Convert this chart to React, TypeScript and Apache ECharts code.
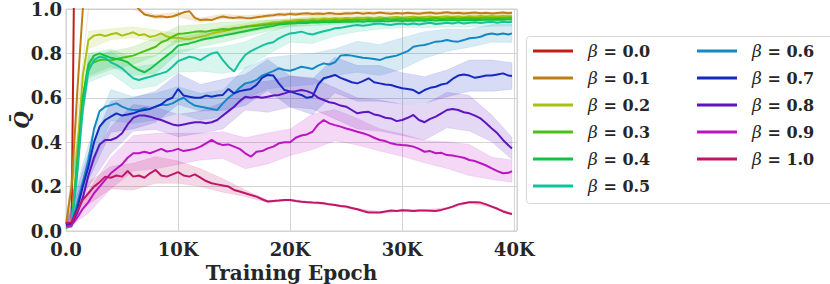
import React, { useEffect, useRef } from "react";
import * as echarts from "echarts";

// Training epochs at which the curves are sampled
const EPOCHS: number[] = Array.from({ length: 80 }, (_, i) => i * 500).concat([39800]);
const RED_EPOCHS = [0, 500, 1000];

const BETAS = ["0.0", "0.1", "0.2", "0.3", "0.4", "0.5", "0.6", "0.7", "0.8", "0.9", "1.0"];

const Q_B00 = [0.03, 0.03, 2.5];
const Q_B01 = [
  0.03, 0.2, 0.62, 1.0, 1.2, 1.3, 1.3, 1.25, 1.2, 1.15,
  1.1, 1.06, 1.03, 1.0, 0.975, 0.97, 0.965, 0.967, 0.963, 0.966,
  0.975, 0.985, 0.99, 0.96, 0.95, 0.953, 0.95, 0.96, 0.966, 0.962,
  0.96, 0.963, 0.96, 0.958, 0.963, 0.966, 0.97, 0.972, 0.976, 0.974,
  0.978, 0.975, 0.979, 0.981, 0.977, 0.98, 0.978, 0.982, 0.979, 0.977,
  0.981, 0.98, 0.983, 0.979, 0.982, 0.98, 0.984, 0.981, 0.979, 0.982,
  0.98, 0.983, 0.981, 0.979, 0.982, 0.984, 0.98, 0.982, 0.985, 0.981,
  0.983, 0.98, 0.982, 0.984, 0.981, 0.983, 0.98, 0.982, 0.984, 0.981,
  0.983,
];
const Q_B02 = [
  0.025, 0.03, 0.35, 0.7, 0.86, 0.88, 0.885, 0.878, 0.886, 0.892,
  0.88, 0.887, 0.895, 0.882, 0.886, 0.874, 0.88, 0.89, 0.876, 0.87,
  0.87, 0.866, 0.864, 0.87, 0.875, 0.88, 0.89, 0.895, 0.9, 0.905,
  0.91, 0.915, 0.92, 0.925, 0.928, 0.932, 0.935, 0.94, 0.94, 0.945,
  0.946, 0.95, 0.952, 0.95, 0.955, 0.953, 0.957, 0.955, 0.958, 0.956,
  0.96, 0.957, 0.961, 0.959, 0.962, 0.958, 0.963, 0.96, 0.962, 0.964,
  0.961, 0.963, 0.965, 0.962, 0.964, 0.966, 0.963, 0.965, 0.967, 0.964,
  0.966, 0.963, 0.967, 0.965, 0.968, 0.966, 0.969, 0.966, 0.968, 0.967,
  0.968,
];
const Q_B03 = [
  0.02, 0.03, 0.3, 0.6, 0.74, 0.76, 0.77, 0.772, 0.768, 0.775,
  0.78, 0.785, 0.79, 0.8, 0.81, 0.82, 0.83, 0.85, 0.86, 0.875,
  0.888, 0.89, 0.893, 0.897, 0.9, 0.898, 0.903, 0.905, 0.91, 0.908,
  0.913, 0.916, 0.92, 0.922, 0.925, 0.927, 0.93, 0.933, 0.935, 0.938,
  0.94, 0.942, 0.945, 0.943, 0.947, 0.945, 0.949, 0.947, 0.95, 0.948,
  0.952, 0.95, 0.953, 0.951, 0.955, 0.952, 0.954, 0.956, 0.953, 0.955,
  0.957, 0.954, 0.956, 0.958, 0.955, 0.957, 0.959, 0.956, 0.958, 0.96,
  0.957, 0.959, 0.961, 0.958, 0.96, 0.962, 0.959, 0.961, 0.96, 0.962,
  0.961,
];
const Q_B04 = [
  0.015, 0.02, 0.3, 0.6, 0.75, 0.79, 0.8, 0.79, 0.78, 0.775,
  0.77, 0.76, 0.74, 0.725, 0.715, 0.73, 0.75, 0.77, 0.79, 0.81,
  0.835, 0.84, 0.845, 0.852, 0.86, 0.866, 0.87, 0.875, 0.88, 0.885,
  0.89, 0.895, 0.9, 0.905, 0.91, 0.915, 0.92, 0.924, 0.93, 0.932,
  0.935, 0.936, 0.938, 0.937, 0.94, 0.939, 0.942, 0.94, 0.943, 0.941,
  0.944, 0.942, 0.945, 0.943, 0.946, 0.944, 0.947, 0.945, 0.946, 0.948,
  0.946, 0.948, 0.947, 0.949, 0.947, 0.95, 0.948, 0.95, 0.949, 0.951,
  0.949, 0.951, 0.95, 0.952, 0.95, 0.953, 0.951, 0.953, 0.952, 0.954,
  0.953,
];
const Q_B05 = [
  0.02, 0.03, 0.25, 0.55, 0.72, 0.77, 0.785, 0.78, 0.76, 0.748,
  0.733, 0.71, 0.688, 0.68, 0.688, 0.695, 0.703, 0.71, 0.718, 0.74,
  0.765, 0.775, 0.785, 0.78, 0.77, 0.785, 0.8, 0.805, 0.77, 0.74,
  0.718, 0.76, 0.793, 0.81, 0.823, 0.835, 0.845, 0.85, 0.868, 0.88,
  0.89, 0.893, 0.898, 0.89, 0.885, 0.893, 0.9, 0.905, 0.913, 0.915,
  0.92, 0.925, 0.928, 0.925, 0.928, 0.932, 0.935, 0.93, 0.928, 0.932,
  0.935, 0.93, 0.935, 0.93, 0.935, 0.938, 0.932, 0.935, 0.938, 0.935,
  0.94, 0.935, 0.938, 0.94, 0.937, 0.94, 0.942, 0.938, 0.942, 0.94,
  0.943,
];
const Q_B06 = [
  0.03, 0.035, 0.12, 0.22, 0.32, 0.46, 0.54, 0.56, 0.567, 0.575,
  0.56, 0.55, 0.545, 0.545, 0.553, 0.55, 0.56, 0.57, 0.567, 0.575,
  0.59, 0.6, 0.58, 0.565, 0.56, 0.555, 0.55, 0.545, 0.575, 0.6,
  0.62, 0.645, 0.665, 0.67, 0.68, 0.7, 0.71, 0.72, 0.733, 0.725,
  0.722, 0.73, 0.74, 0.735, 0.73, 0.745, 0.755, 0.75, 0.76, 0.79,
  0.793, 0.79, 0.785, 0.78, 0.778, 0.775, 0.77, 0.78, 0.785, 0.79,
  0.8, 0.81, 0.83, 0.835, 0.838, 0.845, 0.853, 0.855, 0.86, 0.855,
  0.853, 0.86, 0.868, 0.87, 0.875, 0.885, 0.89, 0.885, 0.89, 0.885,
  0.89,
];
const Q_B07 = [
  0.03, 0.035, 0.1, 0.2, 0.29, 0.4, 0.47, 0.5, 0.515, 0.53,
  0.52, 0.525, 0.53, 0.54, 0.545, 0.55, 0.56, 0.57, 0.59, 0.6,
  0.64, 0.61, 0.605, 0.6, 0.6, 0.61, 0.605, 0.61, 0.613, 0.64,
  0.62, 0.63, 0.635, 0.64, 0.658, 0.69, 0.703, 0.7, 0.665, 0.635,
  0.628, 0.62, 0.613, 0.6, 0.605, 0.66, 0.688, 0.695, 0.703, 0.69,
  0.68, 0.67, 0.665, 0.675, 0.688, 0.67, 0.665, 0.66, 0.658, 0.65,
  0.643, 0.64, 0.635, 0.62, 0.635, 0.645, 0.65, 0.66, 0.665, 0.685,
  0.7, 0.705, 0.7, 0.69, 0.695, 0.7, 0.7, 0.705, 0.71, 0.7,
  0.698,
];
const Q_B08 = [
  0.025, 0.03, 0.08, 0.15, 0.25, 0.33, 0.39, 0.41, 0.41, 0.42,
  0.44, 0.48, 0.51, 0.52, 0.52, 0.515, 0.507, 0.5, 0.49, 0.48,
  0.475, 0.48, 0.485, 0.49, 0.49, 0.485, 0.49, 0.5, 0.52, 0.54,
  0.56, 0.585, 0.605, 0.6, 0.605, 0.6, 0.605, 0.61, 0.613, 0.62,
  0.628, 0.63, 0.635, 0.63, 0.62, 0.6, 0.59, 0.58, 0.575, 0.565,
  0.56, 0.545, 0.53, 0.535, 0.537, 0.525, 0.52, 0.51, 0.507, 0.495,
  0.5, 0.51, 0.523, 0.5, 0.49, 0.505, 0.515, 0.53, 0.545, 0.55,
  0.545, 0.535, 0.53, 0.52, 0.507, 0.485, 0.462, 0.44, 0.41, 0.385,
  0.372,
];
const Q_B09 = [
  0.02, 0.025, 0.06, 0.1, 0.13, 0.17, 0.2, 0.23, 0.26, 0.28,
  0.3, 0.33, 0.35, 0.35, 0.357, 0.35, 0.36, 0.37, 0.358, 0.362,
  0.37, 0.36, 0.365, 0.37, 0.38, 0.395, 0.41, 0.395, 0.387, 0.39,
  0.38, 0.37, 0.35, 0.335, 0.357, 0.36, 0.372, 0.38, 0.395, 0.4,
  0.4, 0.42, 0.43, 0.435, 0.447, 0.48, 0.5, 0.485, 0.477, 0.47,
  0.462, 0.455, 0.447, 0.44, 0.432, 0.42, 0.41, 0.405, 0.395, 0.39,
  0.387, 0.385, 0.38, 0.37, 0.357, 0.36, 0.35, 0.352, 0.342, 0.34,
  0.335, 0.33, 0.32, 0.315, 0.305, 0.295, 0.282, 0.27, 0.26, 0.262,
  0.27,
];
const Q_B10 = [
  0.035, 0.04, 0.09, 0.14, 0.17, 0.2, 0.22, 0.245, 0.24, 0.25,
  0.245, 0.27, 0.245, 0.25, 0.24, 0.26, 0.275, 0.25, 0.245, 0.255,
  0.265, 0.25, 0.245, 0.255, 0.24, 0.225, 0.215, 0.21, 0.205, 0.2,
  0.185, 0.178, 0.17, 0.162, 0.155, 0.143, 0.133, 0.135, 0.137, 0.14,
  0.14, 0.135, 0.132, 0.13, 0.128, 0.127, 0.125, 0.12, 0.117, 0.113,
  0.11, 0.104, 0.098, 0.09, 0.083, 0.083, 0.083, 0.088, 0.092, 0.09,
  0.093, 0.092, 0.09, 0.092, 0.092, 0.091, 0.09, 0.095, 0.102, 0.11,
  0.12, 0.125, 0.129, 0.13, 0.128, 0.12, 0.11, 0.1, 0.088, 0.08,
  0.077,
];

// Half-width of the shaded spread, at every 4th epoch (0, 2K, ..., 38K, 39.8K)
const SPREAD_B01 = [0.005, 0.03, 0.02, 0.02, 0.01, 0.01, 0.01, 0.01, 0.01, 0.008, 0.008, 0.008, 0.008, 0.006, 0.006, 0.006, 0.006, 0.006, 0.006, 0.006, 0.006];
const SPREAD_B02 = [0.005, 0.04, 0.025, 0.025, 0.025, 0.02, 0.02, 0.02, 0.015, 0.015, 0.012, 0.012, 0.01, 0.01, 0.01, 0.01, 0.01, 0.01, 0.01, 0.01, 0.01];
const SPREAD_B03 = [0.005, 0.05, 0.04, 0.04, 0.04, 0.035, 0.03, 0.03, 0.025, 0.02, 0.015, 0.015, 0.012, 0.012, 0.01, 0.01, 0.01, 0.01, 0.01, 0.01, 0.01];
const SPREAD_B04 = [0.005, 0.05, 0.04, 0.04, 0.04, 0.035, 0.03, 0.03, 0.025, 0.02, 0.015, 0.015, 0.012, 0.012, 0.01, 0.01, 0.012, 0.012, 0.012, 0.012, 0.012];
const SPREAD_B05 = [0.005, 0.05, 0.05, 0.05, 0.05, 0.05, 0.05, 0.06, 0.06, 0.05, 0.04, 0.04, 0.035, 0.03, 0.025, 0.02, 0.02, 0.02, 0.02, 0.02, 0.02];
const SPREAD_B06 = [0.01, 0.07, 0.07, 0.06, 0.06, 0.06, 0.06, 0.06, 0.07, 0.07, 0.07, 0.07, 0.06, 0.07, 0.07, 0.07, 0.06, 0.05, 0.04, 0.04, 0.04];
const SPREAD_B07 = [0.01, 0.06, 0.07, 0.07, 0.07, 0.07, 0.06, 0.07, 0.07, 0.07, 0.07, 0.08, 0.08, 0.08, 0.08, 0.07, 0.06, 0.06, 0.07, 0.07, 0.06];
const SPREAD_B08 = [0.01, 0.05, 0.06, 0.06, 0.05, 0.05, 0.05, 0.06, 0.06, 0.07, 0.07, 0.07, 0.07, 0.07, 0.07, 0.07, 0.08, 0.08, 0.08, 0.06, 0.05];
const SPREAD_B09 = [0.01, 0.05, 0.07, 0.08, 0.08, 0.07, 0.06, 0.06, 0.07, 0.07, 0.06, 0.08, 0.07, 0.06, 0.05, 0.05, 0.05, 0.06, 0.07, 0.05, 0.05];
const SPREAD_B10 = [0.01, 0.05, 0.05, 0.06, 0.06, 0.05, 0.04, 0.03, 0.015, 0.005, 0.004, 0.004, 0.004, 0.004, 0.004, 0.004, 0.004, 0.004, 0.004, 0.004, 0.004];

const X_TICKS = ["0.0", "10K", "20K", "30K", "40K"];

const VALUES = [Q_B00, Q_B01, Q_B02, Q_B03, Q_B04, Q_B05, Q_B06, Q_B07, Q_B08, Q_B09, Q_B10];
const SPREADS = [null, SPREAD_B01, SPREAD_B02, SPREAD_B03, SPREAD_B04, SPREAD_B05, SPREAD_B06, SPREAD_B07, SPREAD_B08, SPREAD_B09, SPREAD_B10];

function hlsHex(h: number, l: number, s: number): string {
  const c = (1 - Math.abs(2 * l - 1)) * s;
  const hp = (h * 6) % 6;
  const x = c * (1 - Math.abs((hp % 2) - 1));
  let r = 0, g = 0, b = 0;
  if (hp < 1) [r, g, b] = [c, x, 0];
  else if (hp < 2) [r, g, b] = [x, c, 0];
  else if (hp < 3) [r, g, b] = [0, c, x];
  else if (hp < 4) [r, g, b] = [0, x, c];
  else if (hp < 5) [r, g, b] = [x, 0, c];
  else [r, g, b] = [c, 0, x];
  const m = l - c / 2;
  const to = (v: number) => Math.round((v + m) * 255).toString(16).padStart(2, "0");
  return "#" + to(r) + to(g) + to(b);
}

const COLORS = BETAS.map((_, i) => hlsHex((0.01 + i / 11) % 1, 0.42, 0.8));
const NAMES = BETAS.map((b) => "β = " + b);
const FONT = "DejaVu Serif";
const TXT = "#262626";
const Y_MAX = 1;

export default function App() {
  const ref = useRef<HTMLDivElement>(null);
  useEffect(() => {
    if (!ref.current) return;
    const chart = echarts.init(ref.current, undefined, { renderer: "svg" });

    const bandSeries: any[] = [];
    SPREADS.forEach((sp, k) => {
      if (!sp) return;
      const vals = VALUES[k];
      const rows: number[][] = sp.map((hw, j) => {
        const idx = j < 20 ? j * 4 : 80;
        const m = vals[idx];
        return [EPOCHS[idx], Math.min(Y_MAX, Math.max(0, m - hw)), Math.min(Y_MAX, m + hw)];
      });
      const color = COLORS[k];
      bandSeries.push({
        name: "spread-" + k,
        type: "custom",
        silent: true,
        clip: true,
        z: 1,
        data: rows,
        encode: { x: 0, y: [1, 2] },
        renderItem: (params: any, api: any) => {
          if (params.dataIndex !== 0) return null;
          const upper = rows.map((r) => api.coord([r[0], r[2]]));
          const lower = rows.map((r) => api.coord([r[0], r[1]])).reverse();
          return {
            type: "polygon",
            shape: { points: upper.concat(lower) },
            style: { fill: color, opacity: 0.17, stroke: color, lineWidth: 0.6 },
          };
        },
      });
    });

    const lineSeries = VALUES.map((vals, k) => ({
      name: NAMES[k],
      type: "line",
      data: (k === 0 ? RED_EPOCHS : EPOCHS).map((e, i) => [e, vals[i]]),
      symbol: "none",
      z: 3,
      color: COLORS[k],
      lineStyle: { width: 2, color: COLORS[k] },
    }));

    const legendCommon = {
      orient: "vertical",
      icon: "rect",
      itemWidth: 40,
      itemHeight: 3,
      itemGap: 7,
      padding: 0,
      selectedMode: false,
      formatter: (n: string) => "{b|β}{t| = " + n.split("= ")[1] + "}",
      textStyle: {
        padding: [0, 0, 0, 10],
        lineHeight: 20,
        rich: {
          b: { fontFamily: FONT, fontStyle: "italic", fontSize: 17, color: TXT, lineHeight: 20 },
          t: { fontFamily: FONT, fontWeight: "bold", fontSize: 16, color: TXT, lineHeight: 20 },
        },
      },
    };

    chart.setOption({
      animation: false,
      backgroundColor: "#ffffff",
      grid: {
        left: 66, top: 9, width: 451, height: 222,
        show: true, borderColor: "#d0d0d0", borderWidth: 1,
        containLabel: false, outerBoundsMode: "none",
      },
      graphic: [
        {
          type: "rect", z: 0,
          shape: { x: 526.5, y: 36.5, width: 330, height: 167, r: 3 },
          style: { fill: "#ffffff", stroke: "#d6d6d6", lineWidth: 1 },
        },
      ],
      legend: [
        { ...legendCommon, left: 533, top: 41, data: NAMES.slice(0, 6) },
        { ...legendCommon, left: 697, top: 41, data: NAMES.slice(6) },
      ],
      xAxis: {
        type: "value", min: 0, max: 40250, interval: 10000,
        axisLine: { show: false }, axisTick: { show: false },
        splitLine: { show: true, lineStyle: { color: "#d4d4d4", width: 1 } },
        axisLabel: {
          margin: 9, fontFamily: FONT, fontWeight: "bold", fontSize: 18, color: TXT,
          formatter: (v: number) => (v % 10000 === 0 && v <= 40000 ? X_TICKS[v / 10000] : ""),
        },
        name: "Training Epoch", nameLocation: "middle", nameGap: 28,
        nameTextStyle: { fontFamily: FONT, fontWeight: "bold", fontSize: 20, color: TXT },
      },
      yAxis: {
        type: "value", min: 0, max: Y_MAX, interval: 0.2,
        axisLine: { show: false }, axisTick: { show: false },
        splitLine: { show: true, lineStyle: { color: "#d4d4d4", width: 1 } },
        axisLabel: {
          margin: 4, fontFamily: FONT, fontWeight: "bold", fontSize: 18, color: TXT,
          formatter: (v: number) => v.toFixed(1),
        },
        name: "Q\u0304", nameLocation: "middle", nameGap: 44, nameRotate: 90,
        nameMoveOverlap: false,
        nameTextStyle: {
          fontFamily: FONT, fontStyle: "italic", fontWeight: "bold", fontSize: 20, color: TXT,
          lineHeight: 26, verticalAlign: "middle",
        },
      },
      series: [...bandSeries, ...lineSeries],
    });
    return () => chart.dispose();
  }, []);
  return <div ref={ref} style={{ width: 830, height: 284, position: "absolute", left: 0, top: 0 }} />;
}
